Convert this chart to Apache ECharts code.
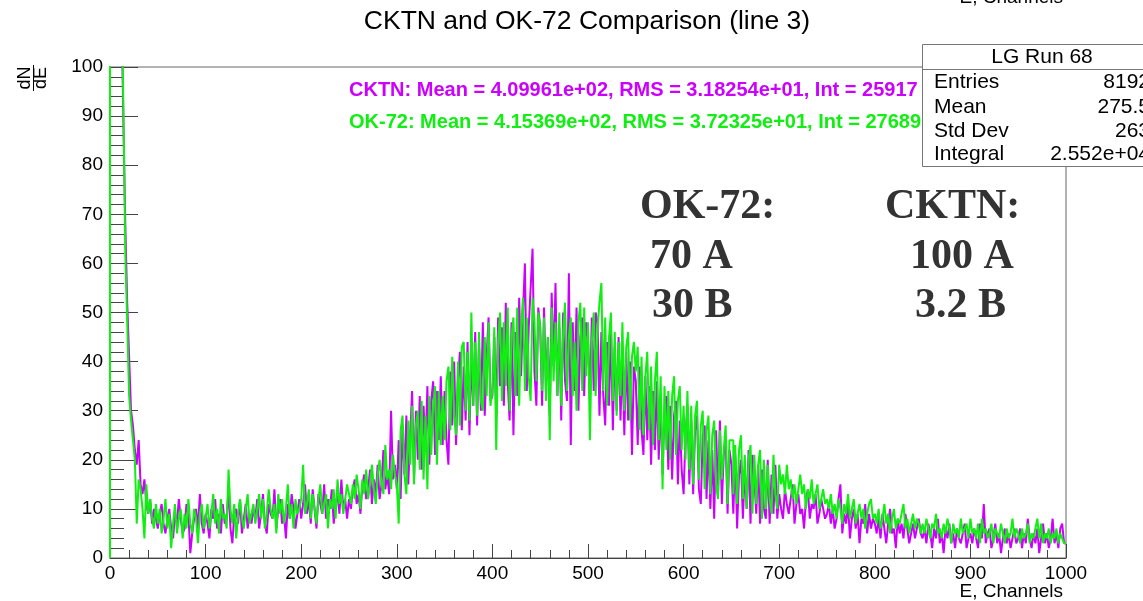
<!DOCTYPE html>
<html>
<head>
<meta charset="utf-8">
<script src="https://cdn.jsdelivr.net/npm/echarts@6/dist/echarts.min.js"></script>
<style>html,body{margin:0;padding:0;background:#fff;}#c{width:1143px;height:601px;}</style>
</head>
<body>
<div id="c"></div>
<script>
// Channel bins: 2 channels per bin, 0..1000
const binLow = 0, binWidth = 2;
const cktnCounts = [
300,265,230,195,160,135,112,89,68,52,41,30,27,22,19,24,15,13,16,11,9,12,7,10,8,
6,9,11,7,5,8,10,6,4,9,7,12,8,5,6,11,9,1,5,8,10,6,13,7,5,
9,7,4,10,8,12,6,9,5,11,7,8,14,6,3,9,10,7,12,5,8,11,6,9,7,
10,8,12,6,9,13,7,5,11,9,8,14,6,10,12,7,9,4,11,8,13,10,6,9,12,
8,11,15,9,12,7,14,10,6,13,11,9,15,8,12,10,14,7,11,13,9,16,10,12,8,
12,10,14,16,11,13,9,15,17,12,14,18,11,16,13,19,12,15,22,14,17,13,30,16,19,
14,24,12,27,17,29,15,25,34,16,30,20,33,18,31,22,35,19,32,36,21,34,24,37,23,
34,24,19,38,27,40,23,36,42,26,39,28,44,25,41,31,46,27,43,30,48,29,41,49,32,
33,45,29,49,35,47,31,52,36,28,48,25,46,33,53,37,50,60,34,47,55,63,38,31,51,
47,31,51,35,45,29,54,39,56,33,47,28,50,36,32,58,23,48,34,51,30,45,49,33,48,
45,32,49,34,50,48,29,46,33,27,44,31,47,26,43,30,45,28,41,25,42,28,40,21,39,
36,23,39,26,21,37,24,35,19,34,22,36,20,32,17,30,33,18,31,16,29,32,15,28,18,
13,25,31,15,28,13,26,29,14,11,25,27,12,24,10,22,8,26,13,28,11,21,24,9,22,
19,9,21,6,17,20,8,18,10,22,7,21,16,9,19,7,18,10,8,20,7,17,9,19,8,
13,10,8,14,11,9,12,15,7,11,13,9,10,6,12,14,8,11,10,13,7,9,12,10,8,
9,11,7,10,6,8,12,15,5,9,7,11,4,8,10,6,9,3,8,7,11,5,9,6,8,
7,5,8,4,9,6,3,7,10,5,6,2,8,5,7,4,9,6,3,5,7,4,6,8,5,
4,6,3,7,5,2,6,4,8,3,5,1,6,4,7,3,5,2,6,4,3,5,7,2,4,
5,3,6,4,2,7,4,11,3,5,6,2,4,7,3,5,1,4,6,3,5,2,4,6,3,
4,6,2,5,3,8,4,2,5,3,6,1,4,7,3,5,2,4,8,3,5,2,6,7,3
];
const ok72Counts = [
300,270,240,205,170,140,115,92,62,48,33,28,24,20,7,16,14,10,4,15,9,12,8,6,11,
7,10,5,8,12,6,9,2,7,11,5,8,10,4,9,6,12,7,5,10,8,3,9,11,6,
8,11,6,9,13,7,10,5,12,8,9,6,18,10,7,11,4,9,12,8,6,10,13,7,9,
11,7,10,13,8,12,6,9,14,10,8,11,5,13,9,12,7,10,15,8,11,6,12,9,10,
12,19,9,11,14,8,13,10,7,12,15,9,11,13,6,12,10,14,8,16,11,13,9,12,15,
13,11,15,12,17,14,10,16,13,18,12,15,19,14,11,17,20,15,13,23,16,18,14,21,17,
15,7,26,29,17,13,28,19,31,15,27,30,18,32,16,29,14,33,21,31,35,19,34,23,33,
24,36,39,26,41,29,25,40,27,43,44,30,42,28,50,31,44,29,46,32,30,45,33,48,31,
34,47,22,44,50,32,48,35,51,30,45,49,33,51,31,47,53,34,49,37,32,53,48,36,50,
47,34,49,32,45,24,51,36,48,33,50,31,46,52,34,45,49,33,44,30,48,52,34,51,37,
48,24,44,50,33,47,52,56,34,49,31,45,50,32,46,29,44,33,48,30,43,46,28,41,44,
38,43,26,41,25,37,42,26,39,23,36,42,24,37,14,35,22,34,20,33,37,21,32,35,22,
31,20,34,18,31,15,29,32,16,27,30,14,26,29,13,25,28,15,12,26,16,22,27,11,24,
24,13,23,11,22,25,12,21,10,20,23,9,21,11,19,22,8,20,10,19,12,9,21,13,10,
19,15,17,13,19,14,16,12,15,11,14,17,13,15,10,14,12,16,11,13,15,10,12,14,11,
12,10,13,9,11,8,12,10,7,11,9,13,8,10,12,7,9,11,8,10,6,9,11,12,8,
9,7,10,6,8,11,7,9,5,8,10,6,8,7,9,11,6,8,5,7,9,6,8,7,5,
7,5,8,6,4,7,6,9,5,6,4,7,5,8,6,3,7,5,6,4,8,5,6,7,4,
8,5,6,4,7,3,8,5,6,4,5,7,3,6,5,4,7,5,3,6,4,5,8,4,6,
5,3,6,4,5,7,3,5,4,6,8,4,7,3,5,4,6,3,5,4,6,3,5,4,3
];
const titleText = 'CKTN and OK-72 Comparison (line 3)';
const legendLines = [
  'CKTN: Mean = 4.09961e+02, RMS = 3.18254e+01, Int = 25917',
  'OK-72: Mean = 4.15369e+02, RMS = 3.72325e+01, Int = 27689'
];
const statsTitle = 'LG Run 68';
const statsLabels = ['Entries', 'Mean', 'Std Dev', 'Integral'];
const statsValues = ['8192', '275.5', '263', '2.552e+04'];
const okNotes = ['OK-72:', '70 A', '30 B'];
const cktnNotes = ['CKTN:', '100 A', '3.2 B'];

function toSteps(counts) {
  const pts = [[binLow, 0]];
  counts.forEach((v, i) => pts.push([binLow + i * binWidth, v]));
  pts.push([binLow + counts.length * binWidth, counts[counts.length - 1]]);
  return pts;
}

const MAG = '#cc00ff', GRN = '#11ee11';
const FF = '"Liberation Sans", Arial, Helvetica, sans-serif';
const SERIF = '"Liberation Serif", "Times New Roman", serif';

const chart = echarts.init(document.getElementById('c'), null, {renderer: 'canvas'});

function txt(x, y, text, o) {
  o = o || {};
  return {
    type: 'text', x: x, y: y, z: o.z || 100, rotation: o.rotation || 0,
    style: {
      text: text, x: 0, y: 0,
      fontSize: o.size || 19, fontFamily: o.family || FF, fontWeight: o.weight || 'normal',
      fill: o.color || '#000',
      textAlign: o.align || 'left', align: o.align || 'left',
      textVerticalAlign: 'middle', verticalAlign: 'middle'
    }
  };
}

const graphics = [];
graphics.push(txt(587, 22, titleText, {size: 26.5, align: 'center'}));
graphics.push(txt(1063, -2, 'E, Channels', {size: 19, align: 'right'}));
graphics.push(txt(1063, 592, 'E, Channels', {size: 19, align: 'right'}));
// dN/dE
graphics.push(txt(25, 78, 'dN', {size: 18, align: 'center', rotation: Math.PI / 2}));
graphics.push(txt(41, 78, 'dE', {size: 18, align: 'center', rotation: Math.PI / 2}));
graphics.push({type: 'line', z: 100, shape: {x1: 33.5, y1: 65, x2: 33.5, y2: 91}, style: {stroke: '#000', lineWidth: 1}});
// legend lines
graphics.push(txt(349, 90, legendLines[0], {size: 20, weight: 'bold', color: MAG}));
graphics.push(txt(349, 122, legendLines[1], {size: 20, weight: 'bold', color: GRN}));
// stats box
graphics.push({type: 'rect', z: 110, shape: {x: 922.5, y: 44.5, width: 240, height: 122}, style: {fill: '#fff', stroke: '#777', lineWidth: 1}});
graphics.push({type: 'line', z: 111, shape: {x1: 922, y1: 69.5, x2: 1143, y2: 69.5}, style: {stroke: '#777', lineWidth: 1}});
graphics.push(txt(1042, 57, statsTitle, {size: 21, align: 'center', z: 112}));
const rowY = [82, 107, 131, 154];
statsLabels.forEach((l, i) => {
  graphics.push(txt(934, rowY[i], l, {size: 21, z: 112}));
  graphics.push(txt(1150, rowY[i], statsValues[i], {size: 21, align: 'right', z: 112}));
});
// big notes
const noteY = [207, 257, 306];
const okX = [640, 650, 652], ckX = [885, 910, 915];
okNotes.forEach((t, i) => graphics.push(txt(okX[i], noteY[i], t, {size: 42, weight: 'bold', family: SERIF, color: '#333'})));
cktnNotes.forEach((t, i) => graphics.push(txt(ckX[i], noteY[i], t, {size: 42, weight: 'bold', family: SERIF, color: '#333'})));

chart.setOption({
  animation: false,
  backgroundColor: '#fff',
  grid: {left: 110, right: 77, top: 67, bottom: 43, show: true, borderColor: '#666', borderWidth: 1, backgroundColor: 'transparent'},
  xAxis: {
    type: 'value', min: 0, max: 1000, interval: 100,
    axisLine: {show: true, lineStyle: {color: '#444', width: 1}},
    axisTick: {show: true, inside: true, length: 14, lineStyle: {color: '#444'}},
    minorTick: {show: true, splitNumber: 5, length: 8, lineStyle: {color: '#444'}},
    splitLine: {show: false},
    axisLabel: {color: '#000', fontSize: 19, fontFamily: FF, margin: 6, formatter: v => String(v)}
  },
  yAxis: {
    type: 'value', min: 0, max: 100, interval: 10,
    axisLine: {show: true, lineStyle: {color: '#444', width: 1}},
    axisTick: {show: true, inside: true, length: 28, lineStyle: {color: '#444'}},
    minorTick: {show: true, splitNumber: 5, length: 14, lineStyle: {color: '#444'}},
    splitLine: {show: false},
    axisLabel: {color: '#000', fontSize: 19, fontFamily: FF, margin: 7}
  },
  series: [
    {name: 'CKTN', type: 'line', step: 'end', data: toSteps(cktnCounts), showSymbol: false, symbol: 'none',
     lineStyle: {color: MAG, width: 2}, clip: true, z: 2},
    {name: 'OK-72', type: 'line', step: 'end', data: toSteps(ok72Counts), showSymbol: false, symbol: 'none',
     lineStyle: {color: GRN, width: 2}, clip: true, z: 3}
  ],
  graphic: graphics
});
</script>
</body>
</html>
